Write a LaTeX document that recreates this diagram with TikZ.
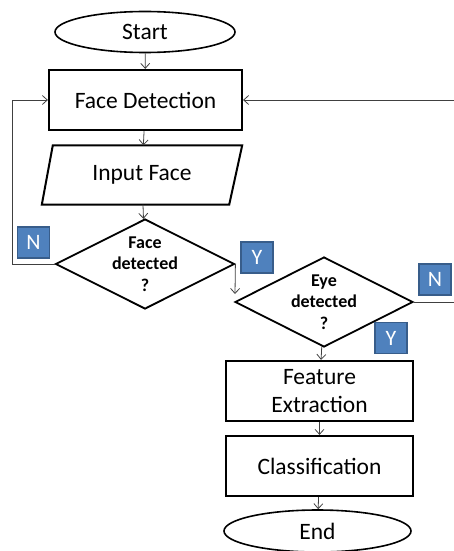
\documentclass[tikz,border=0pt]{standalone}
\usepackage{fontspec}
\setmainfont{Carlito}
\usetikzlibrary{shapes.geometric,arrows.meta,calc}
\definecolor{lblblue}{HTML}{4F81BD}
\definecolor{lbledge}{HTML}{385D8A}
\definecolor{conn}{HTML}{404040}
\begin{document}
\begin{tikzpicture}[x=1pt,y=-1pt,
  term/.style={ellipse,draw,line width=1.6pt,inner sep=0pt,font=\fontsize{23.5}{28}\selectfont},
  procbox/.style={rectangle,draw,line width=2.2pt,inner sep=0pt,align=center,font=\fontsize{23.5}{28}\selectfont},
  iobox/.style={rectangle,inner sep=0pt,font=\fontsize{23.5}{28}\selectfont},
  decide/.style={diamond,draw,line width=1.8pt,inner sep=0pt},
  decidetext/.style={align=center,inner sep=0pt,font=\bfseries\fontsize{18}{21.5}\selectfont},
  yn/.style={rectangle,fill=lblblue,draw=lbledge,line width=1.2pt,text=white,minimum width=32pt,minimum height=31pt,inner sep=0pt,font=\fontsize{22}{24}\selectfont},
  conn/.style={draw=conn,line width=0.8pt,-{Straight Barb[length=5pt,width=9pt,line width=0.8pt]}},
  outline/.style={draw,line width=2pt,line join=miter}
]
\useasboundingbox (0,0) rectangle (454,551);
\node[term,minimum width=180pt,minimum height=41pt] (start) at (145,32) {Start};
\node[procbox,minimum width=193pt,minimum height=60pt] (fd) at (145.5,100) {Face Detection};
\node[iobox,minimum width=200pt,minimum height=59pt] (inp) at (142,175) {Input Face};
\draw[outline] ($(inp.north west)+(11,0)$) -- (inp.north east) -- ($(inp.south east)+(-13,0)$) -- (inp.south west) -- cycle;
\node[decide,minimum width=179pt,minimum height=90pt] (fdec) at (145,264) {};
\node[decidetext] (fdect) at (fdec.center) {Face\\detected\\?};
\node[decide,minimum width=178pt,minimum height=90pt] (edec) at (324,302) {};
\node[decidetext] (edect) at (edec.center) {Eye\\detected\\?};
\node[procbox,minimum width=187pt,minimum height=60pt] (fe) at (319.5,391) {Feature\\Extraction};
\node[procbox,minimum width=187pt,minimum height=60pt] (cl) at (319.5,466) {Classification};
\node[term,minimum width=187pt,minimum height=42pt] (end) at (317.5,531) {End};

\node[yn] (n1) at (33.5,242.5) {N};
\node[yn] (y1) at (257,257.5) {Y};
\node[yn] (n2) at (435,279.5) {N};
\node[yn] (y2) at (391,338) {Y};

\coordinate (lft) at (12,0);
\coordinate (rgt) at (457,0);
\coordinate (ydrop) at (235,294);

\draw[conn] (start) -- (fd);
\draw[conn] (fd) -- (inp);
\draw[conn] (inp) -- (fdec);
\draw[conn] (fdec.west) -- (fdec.west -| lft) -- (fd.west -| lft) -- (fd.west);
\draw[conn] (fdec.east) -- (ydrop);
\draw[conn] (edec.east) -- (edec.east -| rgt) -- (fd.east -| rgt) -- (fd.east);
\draw[conn] (edec) -- (fe);
\draw[conn] (fe) -- (cl);
\draw[conn] (cl) -- (end);
\end{tikzpicture}
\end{document}
